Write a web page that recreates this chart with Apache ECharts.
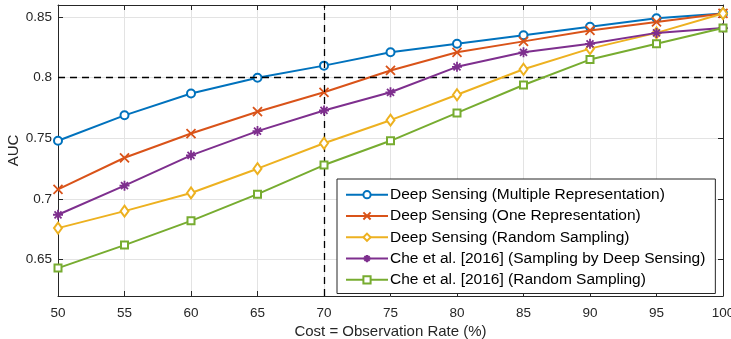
<!DOCTYPE html>
<html>
<head>
<meta charset="utf-8">
<script src="https://cdn.jsdelivr.net/npm/echarts@6/dist/echarts.min.js"></script>
<style>
  html, body { margin: 0; padding: 0; background: #fff; }
  #chart { width: 731px; height: 339px; }
</style>
</head>
<body>
<div id="chart"></div>
<script>
// observation rate (%)
const rates = [50, 55, 60, 65, 70, 75, 80, 85, 90, 95, 100];
const yTicks = [0.65, 0.7, 0.75, 0.8, 0.85];

const seriesNames = [
  "Deep Sensing (Multiple Representation)",
  "Deep Sensing (One Representation)",
  "Deep Sensing (Random Sampling)",
  "Che et al. [2016] (Sampling by Deep Sensing)",
  "Che et al. [2016] (Random Sampling)"
];
const multiRep = [0.748, 0.769, 0.787, 0.800, 0.810, 0.821, 0.828, 0.835, 0.842, 0.849, 0.853];
const oneRep = [0.708, 0.734, 0.754, 0.772, 0.788, 0.806, 0.821, 0.830, 0.839, 0.846, 0.853];
const dsRandom = [0.676, 0.690, 0.705, 0.725, 0.746, 0.765, 0.786, 0.807, 0.824, 0.837, 0.853];
const cheDeep = [0.687, 0.711, 0.736, 0.756, 0.773, 0.788, 0.809, 0.821, 0.828, 0.837, 0.841];
const cheRandom = [0.643, 0.662, 0.682, 0.704, 0.728, 0.748, 0.771, 0.794, 0.815, 0.828, 0.841];

const colors = ["#0072BD", "#D95319", "#EDB120", "#7E2F8E", "#77AC30"];
const symbols = [
  "emptyCircle",
  "path://M0 0L10 10M10 0L0 10",
  "emptyDiamond",
  "path://M5 0L5 10M0 5L10 5M1.5 1.5L8.5 8.5M8.5 1.5L1.5 8.5",
  "emptyRect"
];
const symbolSizes = [8, 9, [8, 11], 10, 7];
const values = [multiRep, oneRep, dsRandom, cheDeep, cheRandom];

const chart = echarts.init(document.getElementById("chart"));
const font = "'Liberation Sans', Arial, sans-serif";
const axisColor = "#262626";

const series = values.map((vals, i) => ({
  name: seriesNames[i],
  type: "line",
  data: vals.map((v, k) => [rates[k], v]),
  symbol: symbols[i],
  symbolSize: symbolSizes[i],
  showAllSymbol: true,
  lineStyle: { color: colors[i], width: 2 },
  itemStyle: { color: colors[i], borderColor: colors[i], borderWidth: 1.8 },
  emphasis: { disabled: true },
  z: 3 + i
}));

// dashed reference lines at AUC 0.8 and 70 %
series[0].markLine = {
  silent: true,
  symbol: "none",
  label: { show: false },
  lineStyle: { color: "#000", type: [7, 5], width: 1.3 },
  data: [{ yAxis: 0.8 }, { xAxis: 70 }]
};

const baseX = {
  type: "value",
  min: 50,
  max: 100,
  interval: 5,
  axisLine: { show: true, onZero: false, lineStyle: { color: axisColor, width: 1 } },
  axisTick: { show: true, inside: true, length: 5, lineStyle: { color: axisColor } },
  splitLine: { show: false }
};
const baseY = {
  type: "value",
  min: 0.62,
  max: 0.86,
  axisLine: { show: true, onZero: false, lineStyle: { color: axisColor, width: 1 } },
  axisTick: { show: true, inside: true, length: 5, customValues: yTicks, lineStyle: { color: axisColor } },
  splitLine: { show: false }
};

chart.setOption({
  animation: false,
  color: colors,
  grid: { left: 58, right: 8, top: 5, bottom: 43, outerBoundsMode: "none" },
  legend: {
    orient: "vertical",
    left: 337,
    top: 179,
    padding: [7, 10, 5, 8],
    itemGap: 4,
    itemWidth: 42,
    itemHeight: 9,
    backgroundColor: "#fff",
    borderColor: "#262626",
    borderWidth: 1,
    borderRadius: 0,
    selectedMode: false,
    textStyle: { fontFamily: font, fontSize: 15.5, lineHeight: 17.3, color: "#000", padding: [0, 0, 0, -3] },
    data: seriesNames
  },
  xAxis: [
    Object.assign({}, baseX, {
      position: "bottom",
      name: "Cost = Observation Rate (%)",
      nameLocation: "middle",
      nameGap: 28,
      nameMoveOverlap: false,
      nameTextStyle: { fontFamily: font, fontSize: 15, color: axisColor },
      axisLabel: { fontFamily: font, fontSize: 13.5, color: axisColor, margin: 10 },
      splitLine: { show: true, lineStyle: { color: "#e3e3e3", width: 1 } }
    }),
    Object.assign({}, baseX, { position: "top", axisLabel: { show: false } })
  ],
  yAxis: [
    Object.assign({}, baseY, {
      position: "left",
      name: "AUC",
      nameLocation: "middle",
      nameGap: 37,
      nameMoveOverlap: false,
      nameTextStyle: { fontFamily: font, fontSize: 15, color: axisColor },
      axisLabel: {
        fontFamily: font, fontSize: 13.5, color: axisColor, margin: 6,
        customValues: yTicks,
        formatter: v => String(+v.toFixed(2))
      },
      splitLine: { show: true, lineStyle: { color: "#e3e3e3", width: 1 } }
    }),
    Object.assign({}, baseY, { position: "right", axisLabel: { show: false } })
  ],
  series: series
});
</script>
</body>
</html>
